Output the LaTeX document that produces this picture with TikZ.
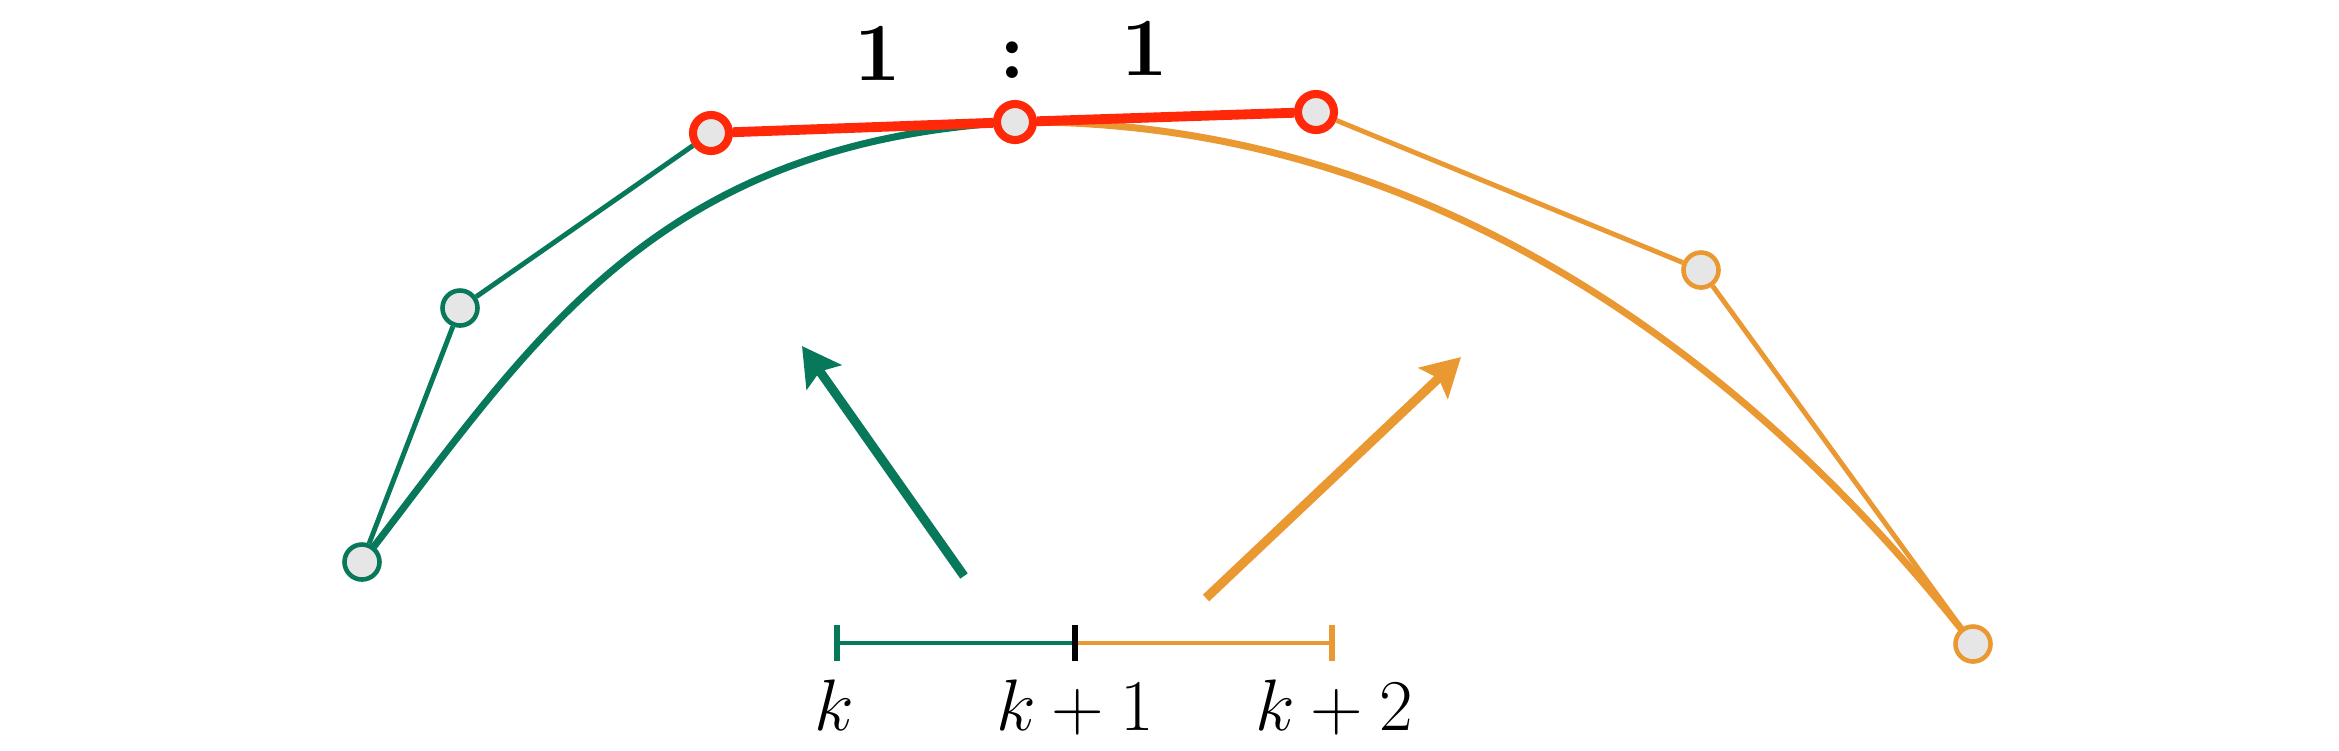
\documentclass[tikz,border=0pt]{standalone}
\usetikzlibrary{arrows.meta}
\definecolor{bgreen}{RGB}{8,120,90}
\definecolor{borange}{RGB}{234,152,50}
\definecolor{bred}{RGB}{255,40,8}
\definecolor{dotfill}{RGB}{230,230,230}
\tikzset{
  dotbase/.style={circle,inner sep=0pt,minimum size=0.35cm,fill=dotfill,line width=1.3pt},
  gdot/.style={dotbase,draw=bgreen},
  odot/.style={dotbase,draw=borange},
  rdot/.style={dotbase,draw=bred,line width=2.3pt,minimum size=0.36cm},
  ctrl/.style={line width=1.4pt},
  curve/.style={line width=2.0pt},
  redline/.style={draw=bred,line width=2.8pt},
  bigarrow/.style={line width=2.6pt,-{Stealth[length=0.38cm,width=0.42cm,inset=0.07cm]}},
  knot/.style={line width=1.1pt},
  lab/.style={anchor=base,inner sep=0pt,font=\fontsize{22}{26}\selectfont},
  ratio/.style={anchor=base,inner sep=0pt,font=\fontsize{23.5}{28}\selectfont\bfseries}
}
\begin{document}
\begin{tikzpicture}[x=0.01cm,y=-0.01cm]
\useasboundingbox (0,0) rectangle (2339,750);
% positions
\coordinate (P0) at (362,562);
\coordinate (P1) at (460,308);
\coordinate (P2) at (711,133);
\coordinate (P3) at (1015,122);
\coordinate (Q1) at (1316,112);
\coordinate (Q2) at (1701,270);
\coordinate (Q3) at (1973,644);
% curves
\draw[curve,bgreen] (P0) .. controls (530,345) and (650,143) .. (P3);
\draw[curve,borange] (P3) .. controls (1414,118) and (1740,345) .. (Q3);
% nodes
\node[gdot] (p0) at (P0) {};
\node[gdot] (p1) at (P1) {};
\node[odot] (q2) at (Q2) {};
\node[odot] (q3) at (Q3) {};
\node[rdot] (p2) at (P2) {};
\node[rdot] (p3) at (P3) {};
\node[rdot] (q1) at (Q1) {};
% control polygons
\draw[ctrl,bgreen] (p0) -- (p1) -- (p2);
\draw[ctrl,borange] (q1) -- (q2) -- (q3);
\draw[redline] (p2) -- (p3) -- (q1);
% ratio
\node[ratio] (r1) at (878,80) {1};
\node[ratio] (rc) at (1012,78) {:};
\node[ratio] (r2) at (1145,75) {1};
% arrows
\coordinate (ga1) at (964,576);
\coordinate (ga2) at (802,346);
\coordinate (oa1) at (1206,598);
\coordinate (oa2) at (1461,357);
\draw[bigarrow,bgreen] (ga1) -- (ga2);
\draw[bigarrow,borange] (oa1) -- (oa2);
% knot vector
\coordinate (t0) at (837,643);
\coordinate (t1) at (1075,643);
\coordinate (t2) at (1332,643);
\draw[knot,bgreen] (t0) -- (t1);
\draw[knot,borange] (t1) -- (t2);
\draw[knot,bgreen,line width=1.6pt] ([yshift=-0.18cm]t0) -- ([yshift=0.18cm]t0);
\draw[knot,black,line width=1.6pt] ([yshift=-0.18cm]t1) -- ([yshift=0.18cm]t1);
\draw[knot,borange,line width=1.6pt] ([yshift=-0.18cm]t2) -- ([yshift=0.18cm]t2);
\node[lab] (l0) at (834,730) {$k$};
\node[lab] (l1) at (1075,730) {$k+1$};
\node[lab] (l2) at (1334,730) {$k+2$};
\end{tikzpicture}
\end{document}
